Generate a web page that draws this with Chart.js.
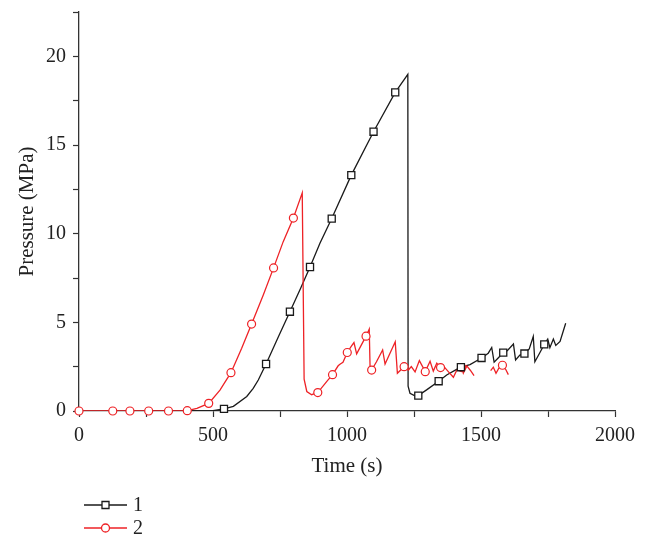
<!DOCTYPE html>
<html>
<head>
<meta charset="utf-8">
<script src="https://cdn.jsdelivr.net/npm/chart.js@4/dist/chart.umd.min.js"></script>
<style>
  html, body { margin: 0; padding: 0; background: #fff; }
  #wrap { width: 648px; height: 538px; }
</style>
</head>
<body>
<div id="wrap"><canvas id="grafico"></canvas></div>
<script>
// Curva 1 (preta, quadrados)
const time1 = [265, 400, 500, 541, 576, 626, 650, 669, 698, 744, 787, 827, 862, 899, 943,
  1016, 1099, 1180, 1227, 1228, 1235, 1250, 1266, 1297, 1342, 1372, 1409, 1425, 1459,
  1502, 1527, 1540, 1549, 1565, 1583, 1598, 1621, 1629, 1645, 1662, 1680, 1695, 1701,
  1720, 1736, 1749, 1757, 1770, 1779, 1795, 1816];
const pressure1 = [0, 0, 0.02, 0.12, 0.26, 0.82, 1.28, 1.75, 2.65, 4.19, 5.6, 6.92, 8.12, 9.46, 10.85,
  13.3, 15.75, 17.97, 18.98, 1.4, 1.0, 0.88, 0.87, 1.19, 1.68, 2.03, 2.35, 2.47, 2.62,
  2.99, 3.26, 3.58, 2.75, 3.0, 3.29, 3.4, 3.78, 2.88, 3.15, 3.24, 3.5, 4.2, 2.78,
  3.3, 3.76, 4.06, 3.57, 4.06, 3.7, 3.92, 4.95];
const markTime1 = [541, 698, 787, 862, 943, 1016, 1099, 1180, 1266, 1342, 1425, 1502, 1583, 1662, 1736];
const markPressure1 = [0.12, 2.65, 5.6, 8.12, 10.85, 13.3, 15.75, 17.97, 0.87, 1.68, 2.47, 2.99, 3.29, 3.24, 3.76];

// Curva 2 (vermelha, círculos) — null marca a falha entre 1474 e 1536 s
const time2 = [0, 126, 190, 260, 334, 404, 440, 484, 526, 567, 607, 644, 688, 726, 762, 800,
  833, 840, 850, 868, 891, 924, 946, 967, 975, 985, 1001, 1017, 1026, 1036, 1071, 1083,
  1086, 1092, 1110, 1133, 1142, 1180, 1188, 1213, 1229, 1240, 1254, 1270, 1292, 1310,
  1322, 1335, 1349, 1362, 1378, 1397, 1409, 1428, 1434, 1447, 1460, 1474, 1505,
  1536, 1546, 1556, 1566, 1580, 1592, 1602];
const pressure2 = [0, 0, 0, 0, 0, 0.02, 0.15, 0.43, 1.18, 2.16, 3.54, 4.9, 6.55, 8.07, 9.55, 10.88,
  12.3, 1.8, 1.1, 0.92, 1.04, 1.66, 2.05, 2.55, 2.65, 2.75, 3.3, 3.67, 3.86, 3.22, 4.22, 4.62,
  2.54, 2.31, 2.78, 3.44, 2.65, 3.9, 2.13, 2.5, 2.31, 2.5, 2.2, 2.84, 2.22, 2.8,
  2.25, 2.7, 2.45, 2.5, 2.22, 1.9, 2.28, 2.45, 2.13, 2.54, 2.3, 2.0, null,
  2.28, 2.47, 2.13, 2.4, 2.58, 2.35, 2.05];
const markTime2 = [0, 126, 190, 260, 334, 404, 484, 567, 644, 726, 800, 891, 946, 1001,
  1071, 1092, 1213, 1292, 1349, 1428, 1580];
const markPressure2 = [0, 0, 0, 0, 0, 0.02, 0.43, 2.16, 4.9, 8.07, 10.88, 1.04, 2.05, 3.3,
  4.22, 2.31, 2.5, 2.22, 2.45, 2.45, 2.58];

// Eixos
const xLimites = [0, 2000];
const yLimites = [0, 22.5];
const nomesSeries = ["1", "2"];

const PRETO = "#1a1a1a";
const VERMELHO = "#ee2226";
const EIXO = "#333333";
const FONTE = "'Liberation Serif', 'DejaVu Serif', serif";

const pontos = (xs, ys) => xs.map((x, i) => ({ x, y: ys[i] }));

// Legenda desenhada à mão: linha com marcador no meio, como no original
const legendaManual = {
  id: "legendaManual",
  afterDraw(chart) {
    const ctx = chart.ctx;
    const itens = [
      { nome: nomesSeries[0], cor: PRETO, estilo: "rect", y: 505 },
      { nome: nomesSeries[1], cor: VERMELHO, estilo: "circle", y: 528 },
    ];
    ctx.save();
    itens.forEach((it) => {
      ctx.strokeStyle = it.cor;
      ctx.lineWidth = 1.3;
      ctx.beginPath();
      ctx.moveTo(84, it.y);
      ctx.lineTo(127, it.y);
      ctx.stroke();
      ctx.fillStyle = "#fff";
      ctx.beginPath();
      if (it.estilo === "rect") ctx.rect(102, it.y - 3.5, 7, 7);
      else ctx.arc(105.5, it.y, 4, 0, Math.PI * 2);
      ctx.fill();
      ctx.stroke();
      ctx.fillStyle = "#222";
      ctx.font = "20px " + FONTE;
      ctx.textBaseline = "middle";
      ctx.fillText(it.nome, 133, it.y + 1);
    });
    ctx.restore();
  },
};

new Chart(document.getElementById("grafico"), {
  type: "line",
  data: {
    datasets: [
      { data: pontos(time1, pressure1), borderColor: PRETO, borderWidth: 1.3,
        pointRadius: 0, tension: 0, order: 2 },
      { data: pontos(time2, pressure2), borderColor: VERMELHO, borderWidth: 1.3,
        pointRadius: 0, tension: 0, spanGaps: false, order: 1 },
      { data: pontos(markTime1, markPressure1), showLine: false, pointStyle: "rect",
        pointRadius: 5, borderColor: PRETO, backgroundColor: "#fff", pointBorderWidth: 1.3,
        clip: false, order: 0 },
      { data: pontos(markTime2, markPressure2), showLine: false, pointStyle: "circle",
        pointRadius: 4, borderColor: VERMELHO, backgroundColor: "#fff", pointBorderWidth: 1.2,
        clip: false, order: 0 },
    ],
  },
  options: {
    responsive: true,
    maintainAspectRatio: false,
    animation: false,
    layout: { padding: { left: 11, right: 33, top: 12, bottom: 55 } },
    plugins: { legend: { display: false }, tooltip: { enabled: false } },
    scales: {
      x: {
        type: "linear",
        min: xLimites[0],
        max: xLimites[1],
        afterFit: (s) => { s.height = 72; s.paddingLeft = 0; s.paddingRight = 0; },
        border: { color: EIXO, width: 1.3 },
        grid: { drawOnChartArea: false, tickLength: 6, color: EIXO, tickWidth: 1.2 },
        ticks: {
          stepSize: 250,
          autoSkip: false,
          maxRotation: 0,
          padding: 7,
          color: "#222",
          font: { family: FONTE, size: 20 },
          callback: (v) => (v % 500 === 0 ? v : ""),
        },
        title: { display: true, text: "Time (s)", color: "#222", font: { family: FONTE, size: 21 } },
      },
      y: {
        min: yLimites[0],
        max: yLimites[1],
        afterFit: (s) => { s.width = 68; s.paddingTop = 0; s.paddingBottom = 0; },
        border: { color: EIXO, width: 1.3 },
        grid: { drawOnChartArea: false, tickLength: 6, color: EIXO, tickWidth: 1.2 },
        ticks: {
          stepSize: 2.5,
          autoSkip: false,
          padding: 7,
          color: "#222",
          font: { family: FONTE, size: 20 },
          callback: (v) => (v % 5 === 0 ? v : ""),
        },
        title: { display: true, text: "Pressure (MPa)", color: "#222", font: { family: FONTE, size: 21 } },
      },
    },
  },
  plugins: [legendaManual],
});
</script>
</body>
</html>
